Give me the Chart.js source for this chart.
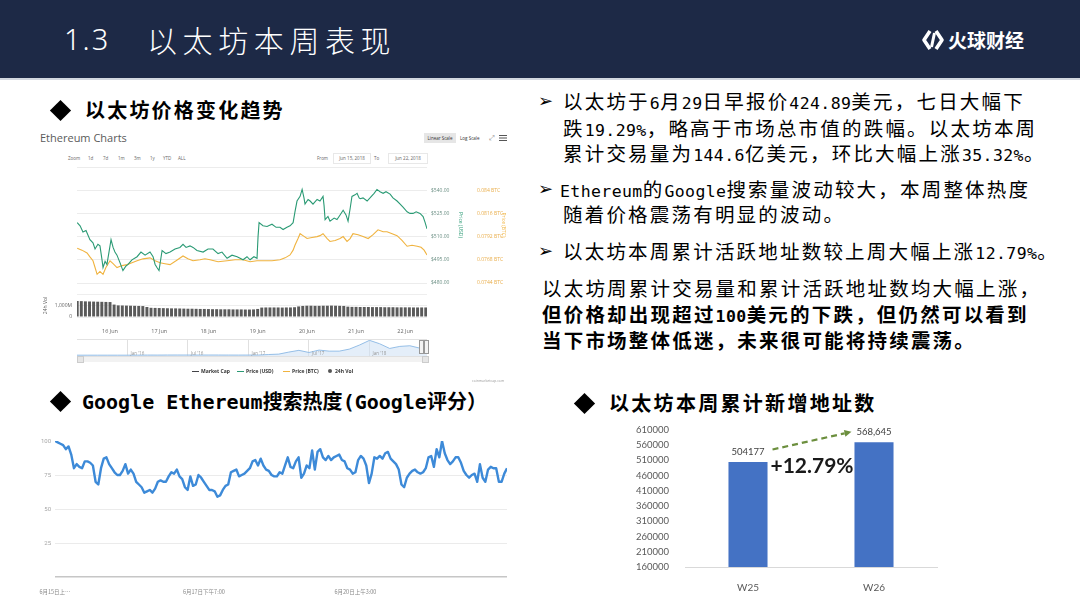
<!DOCTYPE html>
<html><head><meta charset="utf-8">
<script src="https://cdn.jsdelivr.net/npm/chart.js@4.4.1/dist/chart.umd.min.js"></script>
<style>
body{margin:0;background:#fff;}
#slide{position:relative;width:1080px;height:608px;background:#fff;overflow:hidden;font-family:"Noto Sans CJK SC",sans-serif;color:#000;}
.a{position:absolute;white-space:nowrap;}
.l{font-family:"DejaVu Sans Mono",monospace;font-size:16.5px;letter-spacing:0.4px;}
.hl{font-family:"DejaVu Sans Mono",monospace;}
.body{font-size:19.5px;letter-spacing:2.2px;line-height:26px;}
.arrow{font-family:"DejaVu Sans",sans-serif;font-size:18px;line-height:26px;}
.dia{position:absolute;width:15px;height:15px;background:#000;transform:rotate(45deg);}
.head{font-size:20px;font-weight:bold;line-height:26px;}
.tiny{font-family:"Open Sans",sans-serif;color:#666;}
</style></head>
<body><div id="slide">
<div class="a" style="left:0;top:0;width:1080px;height:78px;background:#1d2946;"></div>
<div class="a" style="left:0;top:78px;width:1080px;height:2px;background:#d2d7df;"></div>
<div class="a" style="left:64px;top:19px;color:#fff;font-family:'Noto Sans',sans-serif;font-size:29px;font-weight:300;letter-spacing:2px;line-height:40px;">1.3</div>
<div class="a" style="left:147px;top:19px;color:#fff;font-size:30px;font-weight:300;letter-spacing:5.6px;line-height:40px;">以太坊本周表现</div>
<svg class="a" style="left:921px;top:28px;" width="24" height="24" viewBox="0 0 24 24">
<path d="M9 3 L3 12 L9 21" stroke="#fff" stroke-width="3.6" fill="none" stroke-linejoin="round"/>
<path d="M15 3 L21 12 L15 21" stroke="#fff" stroke-width="3.6" fill="none" stroke-linejoin="round"/>
<path d="M13.5 5 L10.5 19" stroke="#fff" stroke-width="3" fill="none"/>
</svg>
<div class="a" style="left:948px;top:26px;color:#fff;font-size:19px;font-weight:bold;line-height:28px;">火球财经</div>

<div class="dia" style="left:53px;top:103px;"></div>
<div class="a head" style="left:85px;top:97px;letter-spacing:2.2px;">以太坊价格变化趋势</div>
<div class="dia" style="left:53px;top:394px;"></div>
<div class="a head" style="left:82px;top:388px;"><span class="hl">Google Ethereum</span>搜索热度<span class="hl">(Google</span>评分）</div>
<div class="dia" style="left:577px;top:396px;"></div>
<div class="a head" style="left:609px;top:390px;letter-spacing:2.3px;">以太坊本周累计新增地址数</div>

<div class="a arrow" style="left:538px;top:88px;">➢</div>
<div class="a body" style="left:563px;top:88px;">以太坊于<span class="l">6</span>月<span class="l">29</span>日早报价<span class="l">424.89</span>美元，七日大幅下</div>
<div class="a body" style="left:563px;top:115px;">跌<span class="l">19.29%</span>，略高于市场总市值的跌幅。以太坊本周</div>
<div class="a body" style="left:563px;top:140px;">累计交易量为<span class="l">144.6</span>亿美元，环比大幅上涨<span class="l">35.32%</span>。</div>
<div class="a arrow" style="left:538px;top:176px;">➢</div>
<div class="a body" style="left:560px;top:176px;"><span class="l">Ethereum</span>的<span class="l">Google</span>搜索量波动较大，本周整体热度</div>
<div class="a body" style="left:563px;top:201px;">随着价格震荡有明显的波动。</div>
<div class="a arrow" style="left:538px;top:238px;">➢</div>
<div class="a body" style="left:563px;top:238px;">以太坊本周累计活跃地址数较上周大幅上涨<span class="l">12.79%</span>。</div>
<div class="a body" style="left:542px;top:275px;">以太坊周累计交易量和累计活跃地址数均大幅上涨，</div>
<div class="a body" style="left:542px;top:301px;font-weight:bold;">但价格却出现超过<span class="l" style="font-weight:bold">100</span>美元的下跌，但仍然可以看到</div>
<div class="a body" style="left:542px;top:327px;font-weight:bold;">当下市场整体低迷，未来很可能将持续震荡。</div>

<!-- Ethereum chart chrome -->
<div class="a tiny" style="left:40px;top:130px;font-size:11px;color:#5a5a5a;line-height:16px;">Ethereum Charts</div>
<div class="a tiny" style="left:424px;top:133px;width:32px;height:10px;background:#e6e6e6;font-size:4.5px;line-height:10px;text-align:center;color:#333;">Linear Scale</div>
<div class="a tiny" style="left:460px;top:133px;font-size:4.5px;line-height:10px;color:#333;">Log Scale</div>
<div class="a tiny" style="left:489px;top:133px;font-size:7px;line-height:10px;color:#888;">⤢</div>
<div class="a" style="left:499px;top:135px;width:8px;height:1.2px;background:#555;box-shadow:0 2.5px 0 #555,0 5px 0 #555;"></div>
<div class="a tiny" style="left:68px;top:154px;font-size:4.5px;line-height:8px;">Zoom</div>
<div class="a tiny" style="left:88px;top:154px;font-size:4.5px;line-height:8px;">1d</div>
<div class="a tiny" style="left:103px;top:154px;font-size:4.5px;line-height:8px;">7d</div>
<div class="a tiny" style="left:118px;top:154px;font-size:4.5px;line-height:8px;">1m</div>
<div class="a tiny" style="left:134px;top:154px;font-size:4.5px;line-height:8px;">3m</div>
<div class="a tiny" style="left:150px;top:154px;font-size:4.5px;line-height:8px;">1y</div>
<div class="a tiny" style="left:163px;top:154px;font-size:4.5px;line-height:8px;">YTD</div>
<div class="a tiny" style="left:178px;top:154px;font-size:4.5px;line-height:8px;">ALL</div>
<div class="a tiny" style="left:317px;top:154px;font-size:4.5px;line-height:8px;">From</div>
<div class="a tiny" style="left:333px;top:153px;width:36px;height:9px;border:1px solid #e8e8e8;font-size:4.5px;line-height:9px;text-align:center;">Jun 15, 2018</div>
<div class="a tiny" style="left:374px;top:154px;font-size:4.5px;line-height:8px;">To</div>
<div class="a tiny" style="left:388px;top:153px;width:38px;height:9px;border:1px solid #e8e8e8;font-size:4.5px;line-height:9px;text-align:center;">Jun 22, 2018</div>

<div class="a" style="left:35px;top:160px;"><canvas id="cPrice" width="475" height="130"></canvas></div>
<div class="a" style="left:35px;top:286px;"><canvas id="cVol" width="475" height="50"></canvas></div>
<div class="a" style="left:35px;top:336px;"><canvas id="cNav" width="475" height="20"></canvas></div>
<div class="a" style="left:77px;top:356px;width:350px;height:5px;background:#f2f2f2;border-top:1px solid #e0e0e0;"></div>
<div class="a" style="left:77px;top:356px;width:5px;height:5px;background:#e6e6e6;border:0.5px solid #ccc;"></div>
<div class="a" style="left:422px;top:356px;width:5px;height:5px;background:#e6e6e6;border:0.5px solid #ccc;"></div>
<div class="a" style="left:419px;top:340px;width:3px;height:12px;background:#f4f4f4;border:1px solid #999;"></div>
<div class="a" style="left:424px;top:340px;width:3px;height:12px;background:#f4f4f4;border:1px solid #999;"></div>

<div class="a" style="left:192px;top:370.5px;width:7px;height:1px;background:#434348;"></div>
<div class="a tiny" style="left:201px;top:367px;font-size:5px;line-height:8px;color:#333;font-weight:bold;">Market Cap</div>
<div class="a" style="left:237px;top:370.5px;width:7px;height:1px;background:#2a9a74;"></div>
<div class="a tiny" style="left:246px;top:367px;font-size:5px;line-height:8px;color:#333;font-weight:bold;">Price (USD)</div>
<div class="a" style="left:283px;top:370.5px;width:7px;height:1px;background:#f0b33f;"></div>
<div class="a tiny" style="left:292px;top:367px;font-size:5px;line-height:8px;color:#333;font-weight:bold;">Price (BTC)</div>
<div class="a" style="left:328px;top:369px;width:4px;height:4px;border-radius:2px;background:#555;"></div>
<div class="a tiny" style="left:335px;top:367px;font-size:5px;line-height:8px;color:#333;font-weight:bold;">24h Vol</div>
<div class="a tiny" style="left:472px;top:378px;font-size:3.5px;line-height:6px;color:#999;">coinmarketcap.com</div>

<div class="a" style="left:30px;top:430px;"><canvas id="cGoogle" width="482" height="165"></canvas></div>
<div class="a" style="left:630px;top:416px;"><canvas id="cBar" width="310" height="176"></canvas></div>
</div>
<script>
// ---- Ethereum price (hours since 15 Jun 00:00) ----
const priceHours=[8,9.4,10.8,12.3,14.2,15.7,16.7,18.1,19.1,20.1,20.6,21.6,22.5,23.5,24.5,25.5,26.4,27.4,28.9,30.3,31.8,32.8,34.7,37.2,39.1,41.1,43.5,45,46,46.9,47.9,49.4,51.3,53.3,55.7,58.1,59.6,61.1,63,64.5,66.4,69.4,71.8,74.2,76.7,78.6,81.1,83.5,86,88.9,90.8,92.3,94.2,95.7,96.2,96.7,98.6,100.6,103,105,106.9,108.4,110.3,111.8,113.3,114.2,115.2,116.7,117.7,118.6,119.1,120.6,121.6,123,125,126.4,127.9,128.4,128.9,130.3,131.3,133.3,134.7,136.2,137.7,139.1,140.1,141.1,142,143.5,144.5,145.5,146,147.4,149.4,150.8,152.8,154.2,155.7,157.2,158.6,160.6,162,164,165.5,166.9,168.9,170.3,171.8,173.3,175.2,176.7,177.7,178.6];
const priceUSD=[519,517,513,514,508,506,502,505,504,495,490,494,492,500,508,503,500,498,493,488,491,492,495,497,500,498,500,497,492,490,488,501,499,500,502,503,505,503,504,503,501,500,502,502,499,500,496,498,497,495,497,495,497,496,510,519,517,516.5,518,516,516,514.6,516,517,519,526,533,536,540.5,535,531,534,533,531,534,533,536,530,521,523,520,522,521,524,527,524,520,528,536,537,538,535,534.5,535,533,535,538,540.5,539,538,539,537.5,535,533,531,529,526,525,525,526,525,523,519,515];
const btcHours=[8,10.3,12.8,14.2,15.7,16.7,17.7,19.1,20.6,22,24,25.5,27.4,29.9,32.3,34.7,37.2,40.1,43.5,46,48.4,50.8,53.3,56.2,59.6,62,64.5,67.9,70.3,72.8,76.7,81.1,85,88.9,92.3,95.7,99.6,103,106.9,109.4,111.8,113.3,114.2,115.7,116.7,118.1,120.1,122.5,125,126.4,127.9,129.9,131.3,133.8,136.2,137.7,139.6,141.1,142.5,145,147.4,149.9,152.3,154.7,157.2,159.1,161.6,164,166.4,168.9,171.3,173.8,175.7,177.2,178.6];
const priceBTC=[0.0780,0.0778,0.0775,0.0771,0.0767,0.0760,0.0753,0.0756,0.0753,0.0760,0.0767,0.0764,0.0760,0.0762,0.0763,0.0765,0.0767,0.0769,0.0770,0.0767,0.0765,0.0764,0.0763,0.0767,0.0772,0.0769,0.0767,0.0768,0.0769,0.0768,0.0766,0.0767,0.0768,0.0768,0.0766,0.0767,0.0767,0.0767,0.0768,0.0770,0.0773,0.0778,0.0783,0.0790,0.0795,0.0793,0.0790,0.0791,0.0792,0.0793,0.0795,0.0790,0.0787,0.0788,0.0790,0.0792,0.0787,0.0790,0.0795,0.0794,0.0792,0.0790,0.0794,0.0799,0.0797,0.0797,0.0795,0.0793,0.0788,0.0782,0.0783,0.0782,0.0781,0.0778,0.0773];
const volHours=[8,10,12,14,16,18,20,22,24,26,28,30,32,34,36,38,40,42,44,46,48,50,52,54,56,58,60,62,64,66,68,70,72,74,76,78,80,82,84,86,88,90,92,94,96,98,100,102,104,106,108,110,112,114,116,118,120,122,124,126,128,130,132,134,136,138,140,142,144,146,148,150,152,154,156,158,160,162,164,166,168,170,172,174,176,178];
const volume=[1400,1380,1360,1350,1340,1330,1320,1310,1300,1080,1010,1000,990,980,970,960,950,870,800,790,780,770,760,750,750,740,730,720,720,710,700,700,690,680,680,670,670,670,660,660,660,650,650,660,700,820,830,830,830,830,820,830,830,850,920,960,980,980,970,970,980,980,990,980,970,960,900,880,880,870,870,870,860,860,860,850,850,850,840,840,840,840,830,830,830,830];
const dayTickHours=[24,48,72,96,120,144,168];
const dayTickLabels=['16 Jun','17 Jun','18 Jun','19 Jun','20 Jun','21 Jun','22 Jun'];
// navigator: months since Aug 2015
const navMonths=[0,1,2,3,4,5,6,7,8,9,10,11,12,13,14,15,16,17,18,19,20,21,22,23,24,25,26,27,28,29,30,31,32,33,34,34.7];
const navPrice=[1.2,0.9,0.6,0.9,0.9,1,5,10,8,12,14,11,11,12,11,9,8,10,12,50,80,230,360,200,380,300,300,450,750,1100,850,500,650,700,520,470];
const navTickMonths=[5,11,17,23,29];
const navTickLabels=["Jan '16","Jul '16","Jan '17","Jul '17","Jan '18"];
// ---- Google trends (hourly index) ----
const googleValues=[100,99,98,97,94,96,90,80,83,81,80,85,85,84,82,70,68,80,87,88,83,80,77,75,75,78,83,76,79,76,70,68,66,62,63,64,62,65,70,71,70,70,74,77,76,79,74,72,66,64,74,67,68,75,73,70,67,64,64,63,59,60,64,67,68,77,78,79,74,75,76,78,80,85,86,82,87,82,79,78,75,74,74,77,76,82,88,81,80,85,88,73,76,82,80,93,79,92,94,88,86,89,86,88,89,90,86,85,80,79,76,77,86,89,87,82,69,76,88,87,89,87,91,92,87,85,83,79,68,66,73,76,78,79,77,76,77,80,88,89,81,94,88,100,91,86,83,85,88,88,84,78,75,73,75,76,70,83,73,70,79,81,80,80,70,70,76,80];
const googleTickHours=[0,55,111];
const googleTickLabels=['6月15日上…','6月17日下午7:00','6月20日上午3:00'];
const googleYTicks=[0,25,50,75,100];
// ---- New addresses ----
const barCategories=['W25','W26'];
const barValues=[504177,568645];
const barValueLabels=['504177','568,645'];
const growthLabel='+12.79%';

Chart.defaults.animation=false;
Chart.defaults.plugins.legend.display=false;
Chart.defaults.plugins.tooltip.enabled=false;
Chart.defaults.font.family="'Open Sans', sans-serif";

const pts=(xs,ys)=>xs.map((x,i)=>({x:x,y:ys[i]}));

new Chart(document.getElementById('cPrice'),{
  type:'line',
  data:{datasets:[
    {data:pts(priceHours,priceUSD),borderColor:'#2a9a74',borderWidth:1.1,pointRadius:0,yAxisID:'yUSD'},
    {data:pts(btcHours,priceBTC),borderColor:'#f0b33f',borderWidth:1.1,pointRadius:0,yAxisID:'yBTC'}
  ]},
  options:{responsive:false,layout:{padding:{left:42,top:5,bottom:4,right:2}},
    scales:{
      x:{type:'linear',min:7.9,max:178.6,display:false},
      yUSD:{position:'right',min:480,max:555,
        ticks:{stepSize:15,font:{size:5},color:'#6b8f84',padding:4,callback:v=>v===555?'':'$'+v.toFixed(2)},
        grid:{color:'#ececec',drawTicks:false},border:{display:false},
        title:{display:true,text:'Price (USD)',color:'#2a9a74',font:{size:5},padding:{top:2,bottom:2}},
        afterFit:s=>{s.width=38;}},
      yBTC:{position:'right',min:0.0744,max:0.0864,
        ticks:{stepSize:0.0024,font:{size:5},color:'#e9ad4a',padding:4,callback:v=>Math.abs(v-0.0864)<1e-7?'':(+v.toFixed(4))+' BTC'},
        grid:{display:false},border:{display:false},
        title:{display:true,text:'Price (BTC)',color:'#f0b33f',font:{size:5},padding:{top:2,bottom:2}},
        afterFit:s=>{s.width=43;}}
    }}
});

new Chart(document.getElementById('cVol'),{
  type:'bar',
  data:{datasets:[{data:pts(volHours,volume),backgroundColor:'#5a5a5a',barPercentage:0.72,categoryPercentage:1}]},
  options:{responsive:false,layout:{padding:{top:3,right:83}},
    scales:{
      x:{type:'linear',min:7.9,max:178.6,offset:false,grid:{display:false},border:{display:false},
        afterBuildTicks:s=>{s.ticks=dayTickHours.map(v=>({value:v}));},
        ticks:{autoSkip:false,maxRotation:0,font:{size:5.5},color:'#666',padding:3,callback:v=>dayTickLabels[dayTickHours.indexOf(v)]},
        afterFit:s=>{s.height=19;}},
      y:{min:0,max:2000,
        afterBuildTicks:s=>{s.ticks=[{value:0},{value:1000},{value:2000}];},
        ticks:{font:{size:5},color:'#666',padding:5,callback:v=>v===0?'0':(v===1000?'1,000M':'')},
        grid:{color:'#eeeeee',drawTicks:false},border:{display:false},
        title:{display:true,text:'24h Vol',color:'#666',font:{size:5},padding:{top:8,bottom:2}},
        afterFit:s=>{s.width=42;}}
    }}
});

const navLabelPlugin={id:'navLabels',afterDraw(chart){
  const c=chart.ctx,xs=chart.scales.x,a=chart.chartArea;
  c.save();
  c.strokeStyle='#e2e2e2';c.lineWidth=1;c.beginPath();c.moveTo(a.left,a.top+0.5);c.lineTo(a.right,a.top+0.5);c.stroke();
  c.font="4.5px 'Open Sans'";c.fillStyle='#999';c.textBaseline='bottom';c.textAlign='left';
  navTickMonths.forEach((m,i)=>{c.fillText(navTickLabels[i],xs.getPixelForValue(m)+3,a.bottom-0.5);});
  c.restore();}};
new Chart(document.getElementById('cNav'),{
  type:'line',
  data:{datasets:[{data:pts(navMonths,navPrice),borderColor:'#8ab8e4',borderWidth:0.9,pointRadius:0,fill:'start',backgroundColor:'rgba(205,224,244,0.55)'}]},
  options:{responsive:false,layout:{padding:{left:42,right:83,top:3,bottom:0}},
    scales:{
      x:{type:'linear',min:0,max:34.7,
        afterBuildTicks:s=>{s.ticks=navTickMonths.map(v=>({value:v}));},
        ticks:{display:false},grid:{color:'#e0e0e0',drawTicks:false},border:{display:false},
        afterFit:s=>{s.height=0;}},
      y:{display:false,min:-60,max:1200}
    }},
  plugins:[navLabelPlugin]
});

new Chart(document.getElementById('cGoogle'),{
  type:'line',
  data:{datasets:[{data:googleValues.map((v,i)=>({x:i,y:v})),borderColor:'#3d8ad8',borderWidth:2.4,pointRadius:0,tension:0,borderJoinStyle:'round'}]},
  options:{responsive:false,layout:{padding:{top:11,right:5}},
    scales:{
      x:{type:'linear',min:0,max:167,grid:{display:false},border:{display:false},
        afterBuildTicks:s=>{s.ticks=googleTickHours.map(v=>({value:v}));},
        ticks:{autoSkip:false,maxRotation:0,font:{size:5.5,family:"'Noto Sans CJK SC', sans-serif"},color:'#8a8a8a',padding:4,callback:v=>googleTickLabels[googleTickHours.indexOf(v)]},
        afterFit:s=>{s.height=18;}},
      y:{min:0,max:100,
        afterBuildTicks:s=>{s.ticks=googleYTicks.map(v=>({value:v}));},
        ticks:{font:{size:6,family:"Roboto, sans-serif"},color:'#a6a6a6',padding:4,callback:v=>v===0?'':String(v)},
        grid:{color:c=>c.tick&&c.tick.value===0?'#c6c6c6':(c.tick&&c.tick.value===100?'rgba(0,0,0,0)':'#ebebeb'),lineWidth:c=>c.tick&&c.tick.value===0?1.5:1,drawTicks:false},
        border:{display:false},
        afterFit:s=>{s.width=25;}}
    }}
});

const barAnnot={id:'barAnnot',afterDatasetsDraw(chart){
  const c=chart.ctx,m=chart.getDatasetMeta(0),b0=m.data[0],b1=m.data[1];
  c.save();
  c.font="9.5px Lato, sans-serif";c.fillStyle='#404040';c.textAlign='center';c.textBaseline='middle';
  c.fillText(barValueLabels[0],b0.x,b0.y-10.5);
  c.fillText(barValueLabels[1],b1.x,b1.y-10.5);
  const x0=b0.x+b0.width/2+5,y0=b0.y-12.5,x1=b1.x-b1.width/2-3,y1=b1.y-10.5;
  const ang=Math.atan2(y1-y0,x1-x0),hl=7,hw=3.5;
  const bx=x1-hl*Math.cos(ang),by=y1-hl*Math.sin(ang);
  c.strokeStyle='#6c8f3e';c.fillStyle='#6c8f3e';c.lineWidth=2.2;c.setLineDash([6,4]);
  c.beginPath();c.moveTo(x0,y0);c.lineTo(bx,by);c.stroke();c.setLineDash([]);
  c.beginPath();c.moveTo(x1,y1);
  c.lineTo(bx+hw*Math.sin(ang),by-hw*Math.cos(ang));
  c.lineTo(bx-hw*Math.sin(ang),by+hw*Math.cos(ang));c.closePath();c.fill();
  c.font="bold 21px Lato, sans-serif";c.fillStyle='#1a1a1a';
  c.fillText(growthLabel,(b0.x+b1.x)/2+1,b0.y+4);
  c.restore();}};
new Chart(document.getElementById('cBar'),{
  type:'bar',
  data:{labels:barCategories,datasets:[{data:barValues,backgroundColor:'#4472c4',barPercentage:0.31,categoryPercentage:1}]},
  options:{responsive:false,layout:{padding:{top:4,right:3}},
    scales:{
      x:{grid:{display:false},border:{color:'#d9d9d9'},ticks:{font:{size:10,family:'Lato, sans-serif'},color:'#595959',padding:7},afterFit:s=>{s.height=25;}},
      y:{min:160000,max:610000,grid:{display:false},border:{display:false},
        ticks:{stepSize:50000,font:{size:9.5,family:'Lato, sans-serif'},color:'#595959',padding:8,callback:v=>String(v)},
        afterFit:s=>{s.width=55;}}
    }},
  plugins:[barAnnot]
});
</script>
</body></html>
